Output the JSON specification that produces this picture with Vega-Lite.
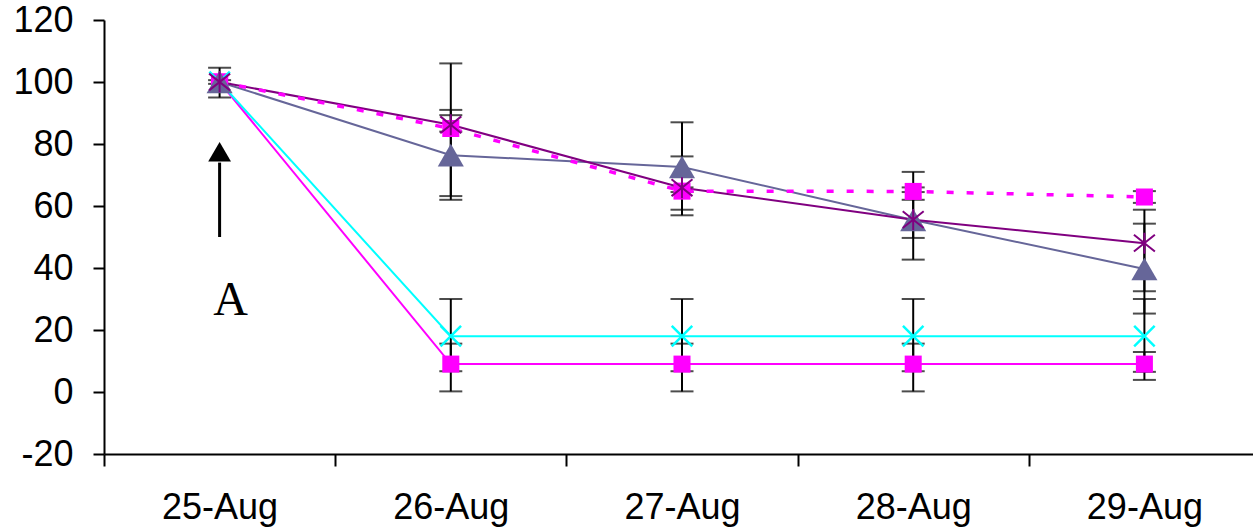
{
  "$schema": "https://vega.github.io/schema/vega-lite/v6.json",
  "width": 1149,
  "height": 434,
  "autosize": {"type": "none"},
  "padding": {"left": 104, "top": 20, "right": 0, "bottom": 78},
  "background": "white",
  "config": {
    "view": {"stroke": null},
    "font": "Liberation Sans",
    "axis": {
      "labelFont": "Liberation Sans",
      "labelFontSize": 36,
      "labelColor": "black",
      "domainColor": "black",
      "domainWidth": 2,
      "tickColor": "black",
      "tickWidth": 2,
      "grid": false
    }
  },
  "datasets": {
    "series": [
      {"date": "25-Aug", "series": "s1", "value": 100},
      {"date": "26-Aug", "series": "s1", "value": 9},
      {"date": "27-Aug", "series": "s1", "value": 9},
      {"date": "28-Aug", "series": "s1", "value": 9},
      {"date": "29-Aug", "series": "s1", "value": 9},
      {"date": "25-Aug", "series": "s2", "value": 100},
      {"date": "26-Aug", "series": "s2", "value": 18},
      {"date": "27-Aug", "series": "s2", "value": 18},
      {"date": "28-Aug", "series": "s2", "value": 18},
      {"date": "29-Aug", "series": "s2", "value": 18},
      {"date": "25-Aug", "series": "s3", "value": 100},
      {"date": "26-Aug", "series": "s3", "value": 85},
      {"date": "27-Aug", "series": "s3", "value": 64.8},
      {"date": "28-Aug", "series": "s3", "value": 64.7},
      {"date": "29-Aug", "series": "s3", "value": 62.9},
      {"date": "25-Aug", "series": "s4", "value": 100},
      {"date": "26-Aug", "series": "s4", "value": 76.4},
      {"date": "27-Aug", "series": "s4", "value": 72.6},
      {"date": "28-Aug", "series": "s4", "value": 55.5},
      {"date": "29-Aug", "series": "s4", "value": 39.7},
      {"date": "25-Aug", "series": "s5", "value": 100},
      {"date": "26-Aug", "series": "s5", "value": 86.2},
      {"date": "27-Aug", "series": "s5", "value": 65.9},
      {"date": "28-Aug", "series": "s5", "value": 55.6},
      {"date": "29-Aug", "series": "s5", "value": 48}
    ],
    "errors": [
      {"date": "25-Aug", "series": "s4", "lo": 95, "hi": 104.6},
      {"date": "25-Aug", "series": "s3", "lo": 99.4, "hi": 100.6},
      {"date": "26-Aug", "series": "s1", "lo": 0.2, "hi": 15.6},
      {"date": "27-Aug", "series": "s1", "lo": 0.2, "hi": 15.6},
      {"date": "28-Aug", "series": "s1", "lo": 0.2, "hi": 15.6},
      {"date": "29-Aug", "series": "s1", "lo": 3.9, "hi": 12.9},
      {"date": "26-Aug", "series": "s2", "lo": 6.7, "hi": 30},
      {"date": "27-Aug", "series": "s2", "lo": 6.7, "hi": 30},
      {"date": "28-Aug", "series": "s2", "lo": 6.7, "hi": 30},
      {"date": "29-Aug", "series": "s2", "lo": 6.5, "hi": 30},
      {"date": "26-Aug", "series": "s3", "lo": 84, "hi": 91},
      {"date": "27-Aug", "series": "s3", "lo": 64.5, "hi": 66},
      {"date": "28-Aug", "series": "s3", "lo": 64.5, "hi": 66},
      {"date": "29-Aug", "series": "s3", "lo": 61, "hi": 64.8},
      {"date": "26-Aug", "series": "s4", "lo": 62, "hi": 89.3},
      {"date": "27-Aug", "series": "s4", "lo": 58.8, "hi": 87},
      {"date": "28-Aug", "series": "s4", "lo": 42.7, "hi": 71},
      {"date": "29-Aug", "series": "s4", "lo": 25.3, "hi": 54.3},
      {"date": "26-Aug", "series": "s5", "lo": 63.2, "hi": 106},
      {"date": "27-Aug", "series": "s5", "lo": 57, "hi": 76},
      {"date": "28-Aug", "series": "s5", "lo": 49.7, "hi": 62},
      {"date": "29-Aug", "series": "s5", "lo": 32.5, "hi": 58.8}
    ],
    "annotation": [
      {"date": "25-Aug", "label": "A", "arrowStart": 50, "arrowEnd": 74, "head": 77.5, "labelY": 29.5}
    ]
  },
  "encoding": {
    "x": {
      "field": "date",
      "type": "ordinal",
      "title": null,
      "scale": {
        "domain": ["25-Aug", "26-Aug", "27-Aug", "28-Aug", "29-Aug"],
        "paddingInner": 0,
        "paddingOuter": 0,
        "range": [0, 1156]
      },
      "axis": {
        "tickBand": "extent",
        "labelAngle": 0,
        "tickSize": 12,
        "labelPadding": 24
      }
    }
  },
  "layer": [
    {
      "data": {"name": "errors"},
      "mark": {"type": "rule", "color": "black", "strokeWidth": 2},
      "encoding": {
        "y": {
          "field": "lo",
          "type": "quantitative",
          "title": null,
          "scale": {"domain": [-20, 120], "nice": false},
          "axis": {
            "values": [-20, 0, 20, 40, 60, 80, 100, 120],
            "tickSize": 11,
            "labelPadding": 20,
            "labelExpr": "replace(datum.label, '\u2212', '-')"
          }
        },
        "y2": {"field": "hi"}
      }
    },
    {
      "data": {"name": "errors"},
      "mark": {"type": "tick", "color": "black", "thickness": 2, "size": 23},
      "encoding": {"y": {"field": "lo", "type": "quantitative", "title": null}}
    },
    {
      "data": {"name": "errors"},
      "mark": {"type": "tick", "color": "black", "thickness": 2, "size": 23},
      "encoding": {"y": {"field": "hi", "type": "quantitative", "title": null}}
    },
    {
      "data": {"name": "series"},
      "transform": [{"filter": "datum.series !== 's3'"}],
      "mark": {"type": "line", "strokeWidth": 2},
      "encoding": {
        "y": {"field": "value", "type": "quantitative", "title": null},
        "color": {
          "field": "series",
          "type": "nominal",
          "legend": null,
          "scale": {"domain": ["s1", "s2", "s4", "s5"], "range": ["#FF00FF", "#00FFFF", "#666699", "#800080"]}
        }
      }
    },
    {
      "data": {"name": "series"},
      "transform": [{"filter": "datum.series === 's3'"}],
      "mark": {"type": "line", "strokeWidth": 3.5, "color": "#FF00FF", "strokeDash": [7, 13]},
      "encoding": {"y": {"field": "value", "type": "quantitative", "title": null}}
    },
    {
      "data": {"name": "series"},
      "transform": [{"filter": "datum.series === 's1' || datum.series === 's3'"}],
      "mark": {"type": "point", "shape": "square", "filled": true, "color": "#FF00FF", "opacity": 1, "size": 290},
      "encoding": {"y": {"field": "value", "type": "quantitative", "title": null}}
    },
    {
      "data": {"name": "series"},
      "transform": [{"filter": "datum.series === 's2'"}],
      "mark": {"type": "point", "shape": "M-1,-1L1,1M-1,1L1,-1", "filled": false, "color": "#00FFFF", "opacity": 1, "strokeWidth": 2.5, "size": 420},
      "encoding": {"y": {"field": "value", "type": "quantitative", "title": null}}
    },
    {
      "data": {"name": "series"},
      "transform": [{"filter": "datum.series === 's4'"}],
      "mark": {"type": "point", "shape": "triangle-up", "filled": true, "color": "#666699", "opacity": 1, "size": 680},
      "encoding": {"y": {"field": "value", "type": "quantitative", "title": null}}
    },
    {
      "data": {"name": "series"},
      "transform": [{"filter": "datum.series === 's5'"}],
      "mark": {"type": "point", "shape": "M-1,-0.8L1,0.8M-1,0.8L1,-0.8M0,-1L0,1", "filled": false, "color": "#800080", "opacity": 1, "strokeWidth": 2, "size": 440},
      "encoding": {"y": {"field": "value", "type": "quantitative", "title": null}}
    },
    {
      "data": {"name": "annotation"},
      "mark": {"type": "rule", "color": "black", "strokeWidth": 3},
      "encoding": {
        "y": {"field": "arrowStart", "type": "quantitative", "title": null},
        "y2": {"field": "arrowEnd"}
      }
    },
    {
      "data": {"name": "annotation"},
      "mark": {"type": "point", "shape": "triangle-up", "filled": true, "color": "black", "opacity": 1, "size": 520},
      "encoding": {"y": {"field": "head", "type": "quantitative", "title": null}}
    },
    {
      "data": {"name": "annotation"},
      "mark": {"type": "text", "font": "Liberation Serif", "fontSize": 48, "color": "black", "dx": 11, "baseline": "middle"},
      "encoding": {
        "y": {"field": "labelY", "type": "quantitative", "title": null},
        "text": {"field": "label"}
      }
    }
  ]
}
